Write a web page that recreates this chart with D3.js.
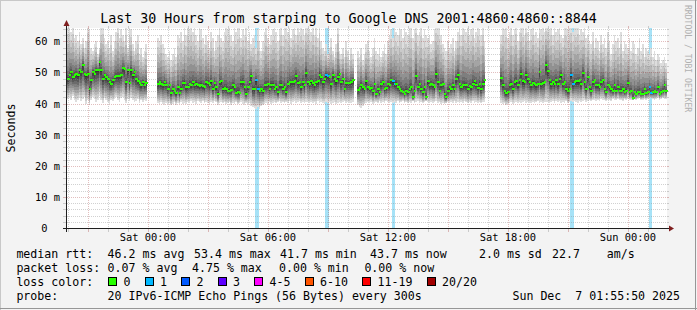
<!DOCTYPE html>
<html>
<head>
<meta charset="utf-8">
<script src="https://cdn.jsdelivr.net/npm/d3@7"></script>
<style>
  body { margin: 0; background: #f3f3f3; }
  svg text { font-family: 'DejaVu Sans Mono', monospace; white-space: pre; }
</style>
</head>
<body>
<svg id="chart"></svg>
<script>
// 5 minute samples, 30 hours
const startTime = new Date(2025, 11, 5, 19, 57, 30);
const stepSec = 300;
const nSamples = 360;

// median rtt per sample in ms (null = no data)
const median = [
  48.0, 49.1, 50.2, 48.5, 49.3, 49.6, 49.1, 50.7, 50.2, 52.5,
  49.6, 49.1, 49.6, 44.8, 47.5, 50.2, 49.6, 50.7, 50.7, 53.4,
  50.7, 48.0, 49.1, 48.5, 48.0, 46.9, 46.4, 47.5, 48.5, 48.9,
  48.9, 48.9, 49.1, 51.5, 51.2, 46.9, 50.7, 46.7, 50.7, 49.1,
  50.2, 48.0, 47.1, 46.7, 45.9, 46.9, 45.9, 46.5,
  null, null, null, null, null, null,
  46.4, 46.9, 46.4, 45.9, 46.9, 46.1, 44.8, 45.9, 43.5, 44.8,
  44.2, 43.5, 45.3, 43.5, 44.8, 46.6, 46.7, 45.3,
  45.3, 46.4, 45.9, 46.9, 45.9, 46.4, 45.9, 45.6, 46.1, 45.6,
  45.3, 46.9, 46.7, 45.9, 47.1, 44.8, 46.7, 45.3, 43.2, 46.9,
  47.1, 44.8, 45.0, 44.8, 44.2, 44.2, 44.5, 45.9, 45.3, 43.5,
  43.7, 43.5, 46.9, 46.9, 45.3, 43.2, 45.3, 46.9, 48.9, 44.8,
  44.8, 47.5, 44.8, 44.2, 44.8, 44.2, 45.9, 45.9, 46.4, 44.8,
  46.1, 46.1, 44.8, 45.3, 43.7, 45.9, 46.1, 44.8, 45.3, 43.7,
  46.4, 46.9, 46.9, 46.9, 47.1, 48.9, 46.7, 46.9, 45.3, 46.9,
  45.9, 49.9,
  46.9, 46.4, 47.1, 46.6, 45.9, 46.9, 47.1, 49.3, 48.5, 46.9,
  47.8, 49.1, 48.9, 48.5, 46.4, 49.3, 48.0, 47.1, 48.5, 49.6,
  46.9, 48.0, 44.8, 46.7, 46.7, 46.7, 46.9, 47.5,
  null, null,
  44.5, 45.0, 46.1, 45.3, 44.8, 47.1, 45.3, 44.8, 45.0, 43.9,
  46.4, 43.2, 44.8, 43.7, 46.4, 46.9, 44.8, 45.0, 46.4, 45.9,
  47.5, 47.1, 46.4, 46.4, 45.3, 44.8, 44.2, 43.7, 43.2, 44.2,
  43.7, 44.8, 45.3, 42.1, 44.2, 48.9, 45.3, 46.4, 44.8, 43.7,
  45.3, 42.1,
  47.1, 45.9, 46.4, 45.9, 45.3, 49.6, 46.9, 44.2, 45.9, 46.4,
  43.2, 42.1, 44.2, 45.3, 44.8, 45.9, 44.8, 48.0, 49.3, 46.4,
  45.3, 45.9, 46.1, 45.9, 44.8, 45.6, 45.3, 46.4, 47.1, 46.1,
  45.0, 46.4, 44.8, 46.4, 47.5,
  null, null, null, null, null, null, null, null, null,
  48.2, 46.1, 43.9, 43.5, 43.7, 45.9, 46.4, 44.8, 46.9, 47.1,
  46.1, 47.5, 49.6, 47.1, 46.9, 49.3, 47.8, 46.9, 45.9, 46.7,
  46.4, 45.9, 46.4, 50.2, 46.4, 46.7, 46.9, 52.3,
  50.4, 47.5, 46.4, 46.9, 46.4, 47.5, 46.4, 48.0, 49.1, 46.4,
  46.9, 44.8, 44.2, 44.8, 49.1, 46.4, 46.9, 47.1, 47.1, 47.5,
  46.4, 49.9, 46.9, 44.8, 48.5, 45.3, 44.2, 46.9, 47.5, 45.9,
  45.9, 45.3, 46.9, 47.5, 44.8, 43.7, 45.9, 45.3, 44.8, 44.2,
  45.9, 44.2, 45.3, 44.2, 44.2, 44.8, 43.7, 44.2, 46.7, 43.7,
  44.2, 41.8, 43.7, 43.2, 43.7, 43.7, 43.2, 43.2, 44.8, 43.5,
  43.7, 45.3, 43.5, 43.7, 44.2, 43.7, 45.3, 43.2, 43.7, 44.2,
  45.9, 44.2,
];

// slowest ping per sample in ms (top of the smoke, 66 = off the chart)
const smokeTop = [
  66, 66, 63, 66, 61, 62, 60, 63, 59, 61, 58, 60, 66, 64, 58, 57, 59, 60, 56, 58,
  65, 66, 61, 59, 60, 58, 62, 57, 60, 63, 66, 61, 64, 62, 60, 66, 58, 66, 64, 59,
  57, 60, 62, 56, 58, 55, 57, 59,
  null, null, null, null, null, null,
  61, 60, 62, 59, 58, 56, 55, 57, 54, 56, 58, 55, 62, 61, 63, 60, 66, 62,
  66, 64, 66, 63, 66, 62, 60, 66, 64, 61, 59, 62, 60, 58, 63, 61, 57, 60, 62, 66,
  61, 60, 63, 66, 64, 66, 62, 60, 66, 63, 65, 66, 61, 64, 62, 66, 60, 63, 59, 61,
  62, 58, 64, 60, 57, 60, 63, 66, 61, 59, 62, 64, 66, 63, 60, 64, 66, 62, 66, 65,
  63, 66, 61, 64, 66, 62, 66, 63, 66, 64, 62, 66,
  66, 64, 63, 66, 62, 65, 61, 66, 60, 58, 57, 59, 56, 58, 61, 57, 55, 59, 66, 57,
  56, 58, 55, 60, 57, 54, 58, 56,
  null, null,
  57, 55, 58, 54, 56, 59, 60, 57, 55, 58, 61, 57, 56, 58, 55, 57, 59, 56, 60, 62,
  64, 61, 66, 63, 62, 66, 64, 61, 66, 63, 62, 66, 65, 61, 64, 66, 62, 63, 66, 61,
  64, 62,
  61, 62, 59, 60, 64, 66, 66, 65, 62, 59, 58, 57, 60, 58, 59, 61, 57, 60, 63, 66,
  62, 66, 64, 63, 66, 62, 64, 66, 61, 63, 66, 64, 62, 66, 60,
  null, null, null, null, null, null, null, null, null,
  62, 66, 64, 66, 61, 63, 66, 62, 64, 66, 60, 63, 66, 65, 62, 66, 63, 60, 64, 66,
  62, 63, 61, 66, 64, 66, 63, 66,
  66, 64, 66, 62, 66, 63, 64, 66, 62, 61, 66, 66, 64, 66, 66, 63, 66, 65, 66, 62,
  64, 63, 66, 61, 62, 60, 59, 63, 58, 61, 60, 57, 62, 59, 61, 58, 63, 60, 56, 59,
  62, 60, 61, 58, 63, 57, 60, 59, 58, 61, 57, 60, 59, 56, 58, 61, 57, 59, 55, 58,
  57, 56, 58, 55, 57, 54, 56, 55, 53, 54, 55, 53,
];

// fastest ping per sample in ms (bottom of the smoke)
const smokeBottom = [
  41.5, 42, 41, 42.5, 41, 40.5, 41, 42, 40.8, 41.5, 42, 40, 41, 39.5, 41, 42, 41.5, 40.5, 41.2, 42.5,
  41, 40.3, 41.8, 41, 40.5, 40, 41.2, 40.8, 41.5, 42, 41, 40.6, 41.8, 42.2, 41, 40.2, 41.5, 40.8, 41.7, 41,
  40.4, 40.9, 41.6, 40.2, 41, 40.5, 41.2, 40.8,
  null, null, null, null, null, null,
  40.2, 39.8, 40.5, 40, 39.6, 40.3, 39.9, 40.1, 39.5, 40, 40.4, 39.7, 40.2, 39.8, 40.6, 40, 40.3, 39.9,
  40.5, 40.1, 40.8, 40.3, 40.6, 40, 40.9, 40.4, 40.2, 40.7, 40.1, 40.5, 40.3, 39.8, 40.6, 40.2, 40.9, 40.4, 39.7, 40.3,
  40.6, 40.1, 40.4, 39.9, 40.2, 40.5, 39.6, 40.3, 40, 40.4, 39.8, 40.2, 40.5, 40, 39.7, 40.3, 39.9, 40.1, 39.2, 38.8,
  38.5, 38.3, 38.9, 38.4, 39.1, 39.5, 39.8, 40.2, 40, 40.4, 39.9, 40.3, 40.6, 40.1, 40.4, 40.8, 40.2, 40.5, 40.1, 40.6,
  40.3, 40.7, 40, 40.4, 40.8, 40.2, 40.5, 40.9, 40.3, 40.6, 40.2, 40.4,
  40.5, 40.2, 40.6, 40.1, 40.4, 40, 40.7, 40.3, 40.5, 40.1, 39.9, 40.4, 40.2, 40.6, 40, 40.3, 40.5, 39.8, 40.2, 40.6,
  40.1, 40.4, 40.7, 40.2, 40.5, 40.1, 40.3, 40.6,
  null, null,
  39.4, 38.9, 38.6, 39.2, 39.8, 40.1, 40.4, 40.2, 40.6, 40, 40.3, 40.5, 40.1, 40.7, 40.3, 40.6, 40.2, 40.8, 40.4, 40.1,
  40.5, 40.2, 40.6, 40.3, 40.7, 40.1, 40.4, 40.8, 40.2, 40.5, 40.1, 40.6, 40.3, 40.7, 40.2, 40.5, 40.9, 40.3, 40.6, 40.1,
  40.4, 40.7,
  40.6, 40.2, 40.5, 40.1, 40.4, 40.8, 40.2, 40.6, 40, 40.3, 39.8, 40.1, 40.4, 40.2, 40.6, 40.3, 40.7, 40.1, 40.5, 40.2,
  40.6, 40.3, 40.8, 40.4, 40.1, 40.5, 40.2, 40.7, 40.3, 40.6, 40.2, 40.5, 40.1, 40.4, 40.6,
  null, null, null, null, null, null, null, null, null,
  40.3, 39.9, 40.2, 39.6, 39.8, 40.1, 40.4, 40, 40.3, 40.6, 40.2, 40.5, 40.1, 40.4, 40.7, 40.2, 40.5, 40.1, 40.3, 40.6,
  40.2, 40.4, 40.7, 40.3, 40.5, 40.1, 40.4, 40.6,
  40.6, 40.2, 40.5, 40.9, 40.3, 40.7, 40.4, 40.8, 40.2, 40.6, 40.3, 40.7, 40.1, 40.5, 40.8, 40.4, 40.9, 40.6, 40.3, 40.7,
  40.5, 40.9, 41.1, 40.6, 40.8, 41.2, 40.7, 41, 41.3, 40.8, 41.1, 40.9, 41.4, 41, 41.2, 40.8, 41.3, 41.1, 40.9, 41.4,
  41.2, 41, 41.5, 41.1, 41.3, 40.9, 41.4, 41.2, 41.6, 41.1, 41.3, 41, 41.5, 41.2, 41.4, 41.7, 41.1, 41.3, 41.6, 41.2,
  41.5, 41.3, 41.7, 41.4, 41.2, 41.6, 41.8, 41.3, 41.5, 41.7, 41.4, 41.6,
];

// samples that lost 1 of 20 pings
const lossIdx = [113, 114, 155, 156, 195, 196, 302, 303, 349, 350];

const lossLabels = ['0', '1', '2', '3', '4-5', '6-10', '11-19', '20/20'];
const lossColors = ['#26ff00', '#00b8ff', '#0059ff', '#5e00ff', '#ff00ff', '#ff5500', '#ff0000', '#a10000'];

const titleText = 'Last 30 Hours from starping to Google DNS 2001:4860:4860::8844';
const rttStats = ['46.2 ms avg', '53.4 ms max', '41.7 ms min', '43.7 ms now', '2.0 ms sd', '22.7', 'am/s'];
const lossStats = ['0.07 % avg', '4.75 % max', '0.00 % min', '0.00 % now'];
const probeText = '20 IPv6-ICMP Echo Pings (56 Bytes) every 300s';
const stampText = 'Sun Dec  7 01:55:50 2025';

const size = { width: 697, height: 310 };
const plot = { left: 67, right: 667, top: 28, bottom: 228 };
const pings = 20;

const sampleTime = (i) => d3.timeSecond.offset(startTime, i * stepSec);

const x = d3
  .scaleTime()
  .domain([startTime, sampleTime(nSamples)])
  .range([plot.left, plot.right]);

const y = d3.scaleLinear().domain([0, 64.3]).range([plot.bottom, plot.top]).clamp(true);

const samples = d3
  .range(nSamples)
  .filter((i) => median[i] != null)
  .map((i) => ({
    i,
    x0: Math.round(x(sampleTime(i))),
    x1: Math.round(x(sampleTime(i + 1))),
    med: median[i],
    hi: smokeTop[i],
    lo: smokeBottom[i],
    loss: lossIdx.includes(i) ? 1 : 0,
  }));

const svg = d3.select('#chart').attr('width', size.width).attr('height', size.height);

svg.append('rect').attr('width', size.width).attr('height', size.height).attr('fill', '#f3f3f3');

// rrdtool style frame
svg.append('line').attr('x1', 0.5).attr('x2', 0.5).attr('y1', 0).attr('y2', size.height).attr('stroke', '#c8c8c8');
svg.append('line').attr('x1', 0).attr('x2', size.width).attr('y1', 0.5).attr('y2', 0.5).attr('stroke', '#c8c8c8');
svg.append('line').attr('x1', size.width - 1.5).attr('x2', size.width - 1.5).attr('y1', 0).attr('y2', size.height).attr('stroke', '#969696');
svg.append('line').attr('x1', 0).attr('x2', size.width).attr('y1', size.height - 1.5).attr('y2', size.height - 1.5).attr('stroke', '#969696');

svg
  .append('rect')
  .attr('x', plot.left)
  .attr('y', plot.top)
  .attr('width', plot.right - plot.left)
  .attr('height', plot.bottom - plot.top)
  .attr('fill', '#ffffff');

// loss background bars
svg
  .append('g')
  .attr('shape-rendering', 'crispEdges')
  .selectAll('rect')
  .data(samples.filter((d) => d.loss > 0))
  .join('rect')
  .attr('x', (d) => d.x0)
  .attr('width', (d) => d.x1 - d.x0)
  .attr('y', plot.top)
  .attr('height', plot.bottom - plot.top)
  .attr('fill', '#a6e2f7');

// smoke: band k spans ping k to ping (21-k), outer bands light, inner dark
const half = pings / 2;
const pingAt = (d, k, upper) => {
  const t = (half + 0.5 - k) / (half - 0.5);
  return upper ? d.med + (d.hi - d.med) * Math.pow(t, 2.0) : d.med - (d.med - d.lo) * Math.pow(t, 1.0);
};

for (let k = 1; k <= half; k++) {
  const c = Math.floor((190 / half) * (half - k)) + 50;
  svg
    .append('g')
    .attr('shape-rendering', 'crispEdges')
    .selectAll('rect')
    .data(samples)
    .join('rect')
    .attr('x', (d) => d.x0)
    .attr('width', (d) => d.x1 - d.x0)
    .attr('y', (d) => Math.round(y(pingAt(d, k, true))))
    .attr('height', (d) => Math.max(1, Math.round(y(pingAt(d, k, false))) - Math.round(y(pingAt(d, k, true)))))
    .attr('fill', d3.rgb(c, c, c));
}

// median, coloured by loss
svg
  .append('g')
  .attr('shape-rendering', 'crispEdges')
  .selectAll('rect')
  .data(samples)
  .join('rect')
  .attr('x', (d) => d.x0)
  .attr('width', (d) => d.x1 - d.x0 + 1)
  .attr('y', (d) => Math.round(y(d.med)) - 1)
  .attr('height', 2)
  .attr('fill', (d) => lossColors[d.loss]);

// grid on top, semi transparent like rrdtool
const minorCol = 'rgba(140,140,140,0.4)';
const majorCol = 'rgba(160,40,40,0.3)';
const grid = svg.append('g').attr('shape-rendering', 'crispEdges');

d3.range(2, 65, 2).forEach((v) => {
  const yy = Math.round(y(v)) + 0.5;
  const col = v % 10 === 0 ? majorCol : minorCol;
  grid.append('line').attr('x1', plot.left).attr('x2', plot.right).attr('y1', yy).attr('y2', yy)
    .attr('stroke', col).attr('stroke-dasharray', '1,1');
  grid.append('line').attr('x1', plot.left - 4).attr('x2', plot.left - 1).attr('y1', yy).attr('y2', yy).attr('stroke', col);
  grid.append('line').attr('x1', plot.right).attr('x2', plot.right + 2).attr('y1', yy).attr('y2', yy).attr('stroke', col);
});

const majorTimes = x.ticks(d3.timeHour.every(3)).map((d) => +d);
x.ticks(d3.timeHour.every(1)).forEach((t) => {
  const xx = Math.round(x(t)) + 0.5;
  const col = majorTimes.includes(+t) ? majorCol : minorCol;
  grid.append('line').attr('x1', xx).attr('x2', xx).attr('y1', plot.top).attr('y2', plot.bottom)
    .attr('stroke', col).attr('stroke-dasharray', '1,1');
  grid.append('line').attr('x1', xx).attr('x2', xx).attr('y1', plot.bottom + 1).attr('y2', plot.bottom + 4).attr('stroke', col);
  grid.append('line').attr('x1', xx).attr('x2', xx).attr('y1', plot.top - 2).attr('y2', plot.top).attr('stroke', col);
});

// axes
const axisCol = '#1f1f1f';
const arrowCol = '#7f1f1f';
svg.append('line').attr('x1', plot.left - 0.5).attr('x2', plot.left - 0.5).attr('y1', plot.bottom + 4).attr('y2', plot.top - 6)
  .attr('stroke', axisCol);
svg.append('line').attr('x1', plot.left - 4).attr('x2', plot.right + 4).attr('y1', plot.bottom + 0.5).attr('y2', plot.bottom + 0.5)
  .attr('stroke', axisCol);
svg.append('path')
  .attr('d', `M${plot.left - 3.5},${plot.top - 2} L${plot.left - 0.5},${plot.top - 8} L${plot.left + 2.5},${plot.top - 2} Z`)
  .attr('fill', arrowCol);
svg.append('path')
  .attr('d', `M${plot.right + 2},${plot.bottom - 2.5} L${plot.right + 7},${plot.bottom + 0.5} L${plot.right + 2},${plot.bottom + 3.5} Z`)
  .attr('fill', arrowCol);

// y labels
const yLabels = svg.append('g').attr('font-size', '10.4px').attr('text-anchor', 'end');
d3.range(0, 61, 10).forEach((v) => {
  yLabels.append('text')
    .attr('x', plot.left - 7)
    .attr('y', Math.round(y(v)) + 4)
    .text(v === 0 ? '0  ' : `${v} m`);
});

// x labels
const xLabels = svg.append('g').attr('font-size', '10.4px').attr('text-anchor', 'middle');
x.ticks(d3.timeHour.every(6)).forEach((t) => {
  xLabels.append('text').attr('x', x(t)).attr('y', plot.bottom + 13).text(d3.timeFormat('%a %H:%M')(t));
});

// title, unit, watermark
svg.append('text').attr('x', size.width / 2).attr('y', 23).attr('text-anchor', 'middle')
  .attr('font-size', '13.3px').text(titleText);

svg.append('text').attr('transform', `translate(15,${(plot.top + plot.bottom) / 2}) rotate(-90)`)
  .attr('text-anchor', 'middle').attr('font-size', '11.6px').text('Seconds');

svg.append('text').attr('transform', 'translate(685,5) rotate(90)')
  .attr('font-size', '8.1px').attr('fill', '#b0b0b0').text('RRDTOOL / TOBI OETIKER');

// legend
const legend = svg.append('g').attr('font-size', '11.6px');
const col0 = 16.4;
const col1 = 107.6;
const lineY = [258, 272, 285.5, 300];

legend.append('text').attr('x', col0).attr('y', lineY[0]).text('median rtt:');
const rttX = [col1, 194, 280, 370, 479, 552, 606.7];
rttStats.forEach((s, i) => legend.append('text').attr('x', rttX[i]).attr('y', lineY[0]).text(s));

legend.append('text').attr('x', col0).attr('y', lineY[1]).text('packet loss:');
const lossX = [col1, 192, 279, 364.4];
lossStats.forEach((s, i) => legend.append('text').attr('x', lossX[i]).attr('y', lineY[1]).text(s));

legend.append('text').attr('x', col0).attr('y', lineY[2]).text('loss color:');
const charW = 7;
let bx = col1 + 0.5;
lossLabels.forEach((lab, i) => {
  legend.append('rect').attr('x', bx + 0.5).attr('y', lineY[2] - 8.5).attr('width', 8).attr('height', 8)
    .attr('fill', lossColors[i]).attr('stroke', '#000').attr('shape-rendering', 'crispEdges');
  legend.append('text').attr('x', bx + 15.5).attr('y', lineY[2]).text(lab);
  bx += 15.5 + lab.length * charW + 14;
});

legend.append('text').attr('x', col0).attr('y', lineY[3]).text('probe:');
legend.append('text').attr('x', col1).attr('y', lineY[3]).text(probeText);
legend.append('text').attr('x', 680).attr('y', lineY[3]).attr('text-anchor', 'end').text(stampText);
</script>
</body>
</html>
